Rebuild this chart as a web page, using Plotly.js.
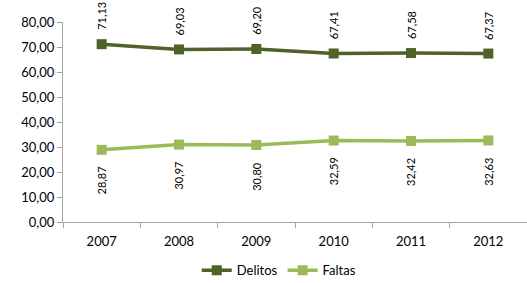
<!DOCTYPE html>
<html><head><meta charset="utf-8">
<script src="https://cdn.plot.ly/plotly-3.0.1.min.js"></script>
<style>body{margin:0;padding:0;background:#fff}#c{width:527px;height:283px}</style>
</head><body><div id="c"></div>
<script>
const years = ['2007','2008','2009','2010','2011','2012'];
const delitos = [71.13, 69.03, 69.20, 67.41, 67.58, 67.37];
const faltas = [28.87, 30.97, 30.80, 32.59, 32.42, 32.63];
const yTicks = [0,10,20,30,40,50,60,70,80];

const fmt = v => v.toFixed(2).replace('.', ',');
const font = 'Lato, "Open Sans", sans-serif';

const traces = [
  {x: years, y: delitos, name: 'Delitos', type: 'scatter', mode: 'lines+markers',
   line: {color: '#4F6228', width: 3.5}, marker: {symbol: 'square', size: 10, color: '#4F6228'}},
  {x: years, y: faltas, name: 'Faltas', type: 'scatter', mode: 'lines+markers',
   line: {color: '#9BBB59', width: 3.5}, marker: {symbol: 'square', size: 10, color: '#9BBB59'}}
];

const annotations = [];
years.forEach((yr, i) => {
  annotations.push({x: i, y: delitos[i], xref: 'x', yref: 'y', text: fmt(delitos[i]),
    showarrow: false, textangle: -90, yanchor: 'bottom', yshift: 12,
    font: {family: font, size: 11, color: '#000'}});
  annotations.push({x: i, y: faltas[i], xref: 'x', yref: 'y', text: fmt(faltas[i]),
    showarrow: false, textangle: -90, yanchor: 'top', yshift: -15,
    font: {family: font, size: 11, color: '#000'}});
});

const layout = {
  width: 527, height: 283,
  margin: {l: 63, r: 0, t: 22, b: 61},
  paper_bgcolor: '#fff', plot_bgcolor: '#fff',
  font: {family: font, size: 13, color: '#000'},
  showlegend: true,
  legend: {orientation: 'h', x: 0.465, xanchor: 'center', yref: 'container', y: 0.045, yanchor: 'middle',
    font: {family: font, size: 13, color: '#000'}, itemwidth: 30, tracegroupgap: 0},
  xaxis: {type: 'category', categoryarray: years, categoryorder: 'array',
    range: [-0.5, years.length - 0.5],
    showline: true, linecolor: '#A6A6A6', linewidth: 1,
    ticks: 'outside', tickson: 'boundaries', ticklen: 5, tickcolor: '#A6A6A6',
    showgrid: false, zeroline: false, fixedrange: true, tickangle: 0, ticklabelstandoff: 7,
    tickfont: {family: font, size: 13}},
  yaxis: {range: [0, 80], tickvals: yTicks, ticktext: yTicks.map(fmt),
    showline: true, linecolor: '#A6A6A6', linewidth: 1, ticks: 'outside', ticklen: 5,
    tickcolor: '#A6A6A6', showgrid: false, zeroline: false, fixedrange: true,
    tickfont: {family: font, size: 13}},
  annotations: annotations
};

Plotly.newPlot('c', traces, layout, {displayModeBar: false, staticPlot: true});
</script></body></html>
